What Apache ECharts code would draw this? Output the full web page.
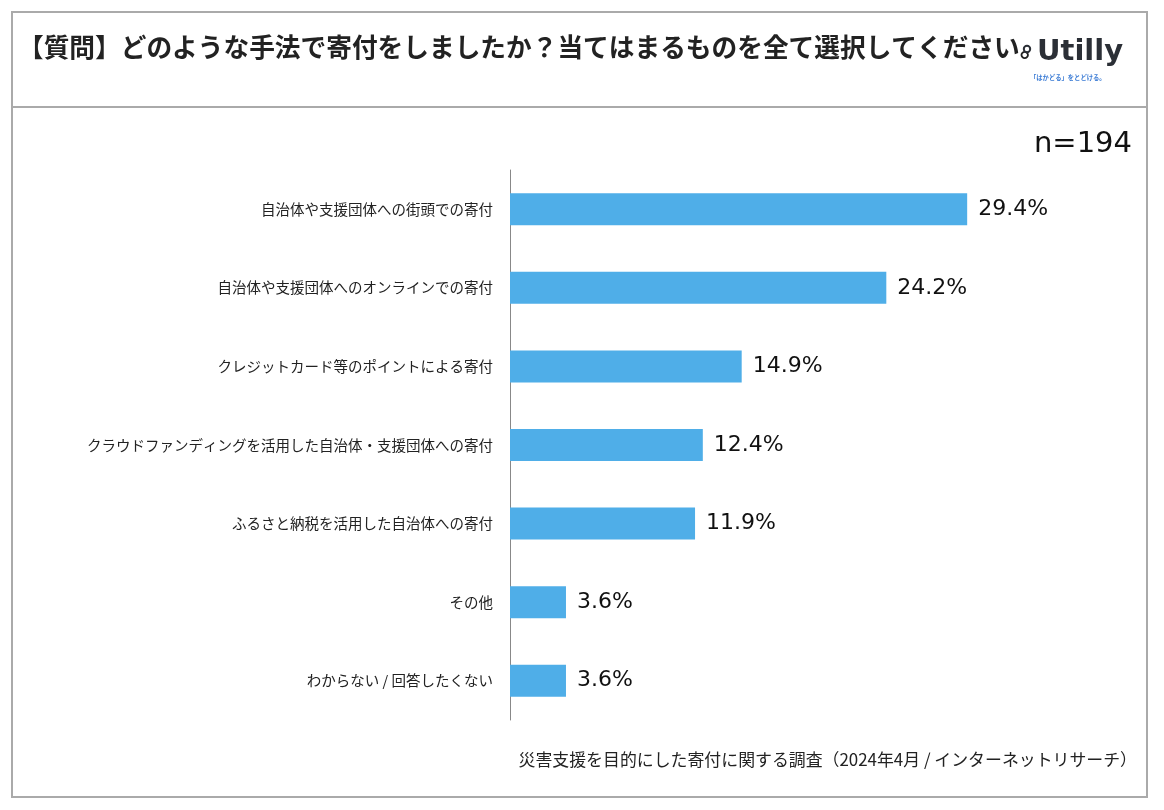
<!DOCTYPE html>
<html><head><meta charset="utf-8">
<script src="https://cdn.jsdelivr.net/npm/echarts@6/dist/echarts.min.js"></script>
<style>html,body{margin:0;padding:0;background:#fff}#c{width:1164px;height:810px}</style>
</head><body><div id="c"></div>
<script>
const categories = [
  "自治体や支援団体への街頭での寄付",
  "自治体や支援団体へのオンラインでの寄付",
  "クレジットカード等のポイントによる寄付",
  "クラウドファンディングを活用した自治体・支援団体への寄付",
  "ふるさと納税を活用した自治体への寄付",
  "その他",
  "わからない / 回答したくない"
];
const values = [29.4, 24.2, 14.9, 12.4, 11.9, 3.6, 3.6];
const titleText = "【質問】どのような手法で寄付をしましたか？当てはまるものを全て選択してください。";
const nText = "n=194";
const sourceText = "災害支援を目的にした寄付に関する調査（2024年4月 / インターネットリサーチ）";

const font = '"Noto Sans CJK JP","Noto Sans",sans-serif';
const numFont = '"DejaVu Sans",sans-serif';
const chart = echarts.init(document.getElementById('c'));
chart.setOption({
  backgroundColor: '#fff',
  animation: false,
  grid: {left: 510, right: 32, top: 170, bottom: 90, containLabel: false},
  xAxis: {type: 'value', min: 0, max: 40, show: false},
  yAxis: {
    type: 'category', data: categories, inverse: true,
    axisLine: {show: true, lineStyle: {color: '#888', width: 1}},
    axisTick: {show: false},
    axisLabel: {color: '#222', fontSize: 14.5, fontFamily: font, margin: 17}
  },
  series: [{
    type: 'bar', data: values, barWidth: 32,
    itemStyle: {color: '#4faee8'},
    label: {show: true, position: 'right', distance: 11, color: '#111', fontSize: 22, fontFamily: numFont,
      formatter: p => p.value.toFixed(1) + '%'}
  }],
  graphic: [
    {type: 'rect', shape: {x: 12, y: 12, width: 1135, height: 785}, style: {fill: 'none', stroke: '#aaa', lineWidth: 2}},
    {type: 'line', shape: {x1: 12, y1: 107, x2: 1147, y2: 107}, style: {stroke: '#aaa', lineWidth: 2}},
    {type: 'text', left: 18, top: 34, style: {text: titleText, fontSize: 25.7, fontWeight: 'bold', fill: '#222', fontFamily: font}},
    {type: 'text', right: 32, top: 130, style: {text: nText, fontSize: 29, fill: '#111', fontFamily: numFont}},
    {type: 'text', right: 27, top: 751, style: {text: sourceText, fontSize: 16.9, fill: '#222', fontFamily: font}},
    {type: 'text', left: 1037, top: 38, style: {text: 'Utilly', fontSize: 29, fontWeight: 'bold', fill: '#2b2f36', fontFamily: '"DejaVu Sans",sans-serif'}},
    {type: 'circle', shape: {cx: 1027, cy: 49, r: 3.2}, style: {fill: 'none', stroke: '#2b2f36', lineWidth: 2}},
    {type: 'text', left: 1030, top: 74, style: {text: '「はかどる」をとどける。', fontSize: 6.3, fontWeight: 'bold', fill: '#3a7bd5', fontFamily: font}}
  ]
});
</script></body></html>
